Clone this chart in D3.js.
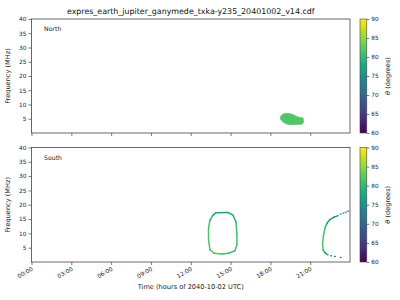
<!DOCTYPE html>
<html>
<head>
<meta charset="utf-8">
<script src="https://cdn.jsdelivr.net/npm/d3@7"></script>
<style>
  body { margin: 0; background: #fff; }
  svg { font-family: "DejaVu Sans", sans-serif; }
</style>
</head>
<body>
<svg id="chart"></svg>
<script>
// Chart text
const title = "expres_earth_jupiter_ganymede_txka-y235_20401002_v14.cdf";
const panelNames = ["North", "South"];

// Axis ticks
const timeTickHours = [0, 3, 6, 9, 12, 15, 18, 21];
const timeTickLabels = ["00:00", "03:00", "06:00", "09:00", "12:00", "15:00", "18:00", "21:00"];
const freqTicks = [5, 10, 15, 20, 25, 30, 35, 40];
const thetaTicks = [60, 65, 70, 75, 80, 85, 90];

// North emission blob (outline, hours / MHz), single theta
const northTime = [18.73, 18.95, 19.33, 19.7, 20.0, 20.3, 20.46, 20.46, 19.93, 19.33, 18.95, 18.73];
const northFreq = [5.26, 6.67, 6.9, 6.5, 5.8, 5.4, 5.26, 3.33, 2.98, 2.98, 3.86, 4.56];
const northTheta = 81.8;

// South closed loop
const loopTime = [13.90, 14.81, 15.18, 15.41, 15.48, 15.48, 15.33, 14.88, 14.36, 13.75, 13.45, 13.34, 13.34, 13.45, 13.68, 13.90];
const loopFreq = [17.23, 17.30, 16.37, 13.94, 9.45, 5.99, 3.91, 3.04, 2.77, 3.04, 4.26, 7.72, 11.87, 14.64, 16.37, 17.23];
const loopTheta = [77, 77, 78.5, 80.5, 81, 81, 81, 81, 81, 81.5, 81.5, 81.5, 81.5, 80.5, 78.5, 77.5];

// South arc (continuous part)
const arcTime = [23.10, 22.80, 22.49, 22.27, 22.12, 22.00, 21.93, 21.97, 22.12, 22.34];
const arcFreq = [16.19, 15.67, 14.81, 13.60, 11.87, 9.10, 6.33, 4.26, 3.22, 2.53];
const arcTheta = [73.5, 74, 75.5, 77.5, 80.5, 81.5, 81.5, 80.5, 78, 76];

// South arc (sparse samples at both ends)
const sparseTime = [23.87, 23.68, 23.50, 23.29, 22.57, 22.87, 23.30];
const sparseFreq = [17.75, 17.4, 17.06, 16.7, 2.18, 1.94, 1.59];
const sparseTheta = [73, 73, 73, 73.5, 75, 74.5, 74];

const width = 400;
const height = 300;
const axisColor = "#444";

const svg = d3.select("#chart")
  .attr("width", width)
  .attr("height", height);

const x = d3.scaleLinear().domain([0, 24]).range([31.5, 350]);
const color = d3.scaleSequential(d3.interpolateViridis).domain([60, 90]);

const panels = [
  { name: panelNames[0], top: 19, bottom: 133, showTimeLabels: false },
  { name: panelNames[1], top: 147.5, bottom: 262, showTimeLabels: true }
];

// Title
svg.append("text")
  .attr("x", (x.range()[0] + x.range()[1]) / 2)
  .attr("y", 14)
  .attr("text-anchor", "middle")
  .attr("font-size", 7.9)
  .attr("fill", "#111")
  .text(title);

// Vertical viridis gradient for colourbars
const grad = svg.append("defs").append("linearGradient")
  .attr("id", "viridis")
  .attr("x1", 0).attr("y1", 1).attr("x2", 0).attr("y2", 0);
d3.range(0, 1.0001, 0.05).forEach(t => {
  grad.append("stop")
    .attr("offset", t)
    .attr("stop-color", d3.interpolateViridis(t));
});

panels.forEach((p, i) => {
  const y = d3.scaleLinear().domain([0, 40]).range([p.bottom, p.top]);
  const g = svg.append("g");

  // data marks
  const plot = g.append("g");
  if (i === 0) {
    const pts = northTime.map((t, k) => [x(t), y(northFreq[k])]);
    plot.append("path")
      .attr("d", d3.line().curve(d3.curveCatmullRomClosed)(pts.slice(0, -1)))
      .attr("fill", color(northTheta))
      .attr("stroke", color(northTheta))
      .attr("stroke-width", 0.5);
  } else {
    const drawSegments = (ts, fs, th) => {
      for (let k = 0; k < ts.length - 1; k++) {
        plot.append("line")
          .attr("x1", x(ts[k])).attr("y1", y(fs[k]))
          .attr("x2", x(ts[k + 1])).attr("y2", y(fs[k + 1]))
          .attr("stroke", color((th[k] + th[k + 1]) / 2))
          .attr("stroke-width", 1.5)
          .attr("stroke-linecap", "round");
      }
    };
    drawSegments(loopTime, loopFreq, loopTheta);
    drawSegments(arcTime, arcFreq, arcTheta);
    plot.selectAll("rect.sparse")
      .data(sparseTime.map((t, k) => ({ t, f: sparseFreq[k], th: sparseTheta[k] })))
      .join("rect")
      .attr("class", "sparse")
      .attr("x", d => x(d.t) - 1)
      .attr("y", d => y(d.f) - 0.6)
      .attr("width", 2)
      .attr("height", 1.2)
      .attr("fill", d => color(d.th));
  }

  // frame
  g.append("rect")
    .attr("x", x.range()[0]).attr("y", p.top)
    .attr("width", x.range()[1] - x.range()[0])
    .attr("height", p.bottom - p.top)
    .attr("fill", "none")
    .attr("stroke", axisColor)
    .attr("stroke-width", 0.8);

  // y axis
  const yAxis = g.append("g")
    .attr("transform", `translate(${x.range()[0]},0)`)
    .call(d3.axisLeft(y).tickValues(freqTicks).tickSize(3).tickPadding(2));
  yAxis.select(".domain").remove();

  // x axis
  const xAxis = g.append("g")
    .attr("transform", `translate(0,${p.bottom})`)
    .call(d3.axisBottom(x).tickValues(timeTickHours).tickSize(3)
      .tickFormat((d, k) => p.showTimeLabels ? timeTickLabels[k] : ""));
  xAxis.select(".domain").remove();
  xAxis.selectAll(".tick text")
    .attr("text-anchor", "end")
    .attr("transform", "translate(-2,2) rotate(-30)")
    .attr("dy", "0.7em")
    .attr("y", 3);

  g.selectAll(".tick line").attr("stroke", axisColor).attr("stroke-width", 0.7);
  g.selectAll(".tick text").attr("font-size", 5.8).attr("fill", "#222")
    .attr("font-family", "DejaVu Sans");

  // y label
  g.append("text")
    .attr("transform", `translate(10,${(p.top + p.bottom) / 2}) rotate(-90)`)
    .attr("text-anchor", "middle")
    .attr("font-size", 6.6)
    .attr("fill", "#222")
    .text("Frequency (MHz)");

  // panel name
  g.append("text")
    .attr("x", 44)
    .attr("y", p.top + 12)
    .attr("font-size", 6.2)
    .attr("fill", "#222")
    .text(p.name);

  // colourbar
  const cb = d3.scaleLinear().domain([60, 90]).range([p.bottom, p.top]);
  g.append("rect")
    .attr("x", 360).attr("y", p.top)
    .attr("width", 6.8).attr("height", p.bottom - p.top)
    .attr("fill", "url(#viridis)")
    .attr("stroke", axisColor)
    .attr("stroke-width", 0.6);
  const cbAxis = g.append("g")
    .attr("transform", "translate(366.8,0)")
    .call(d3.axisRight(cb).tickValues(thetaTicks).tickSize(2.5).tickPadding(2));
  cbAxis.select(".domain").remove();
  cbAxis.selectAll(".tick line").attr("stroke", axisColor).attr("stroke-width", 0.7);
  cbAxis.selectAll(".tick text").attr("font-size", 5.8).attr("fill", "#222")
    .attr("font-family", "DejaVu Sans");

  const cbLabel = g.append("text")
    .attr("transform", `translate(390,${(p.top + p.bottom) / 2}) rotate(-90)`)
    .attr("text-anchor", "middle")
    .attr("font-size", 6.6)
    .attr("fill", "#222");
  cbLabel.append("tspan").attr("font-style", "italic").text("θ");
  cbLabel.append("tspan").text(" (degrees)");
});

// x label
svg.append("text")
  .attr("x", (x.range()[0] + x.range()[1]) / 2)
  .attr("y", 289)
  .attr("text-anchor", "middle")
  .attr("font-size", 6.6)
  .attr("fill", "#222")
  .text("Time (hours of 2040-10-02 UTC)");
</script>
</body>
</html>
